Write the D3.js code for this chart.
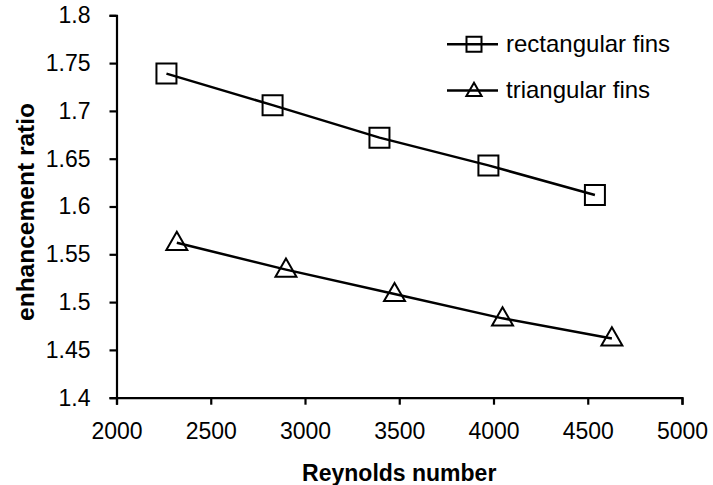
<!DOCTYPE html>
<html><head><meta charset="utf-8">
<script src="https://cdn.jsdelivr.net/npm/d3@7"></script>
<style>body{margin:0;background:#fff}svg{display:block}</style>
</head><body>
<script>
const xTicks = [2000, 2500, 3000, 3500, 4000, 4500, 5000];
const yTicks = [1.4, 1.45, 1.5, 1.55, 1.6, 1.65, 1.7, 1.75, 1.8];
const rectRe = [2265, 2828, 3395, 3973, 4538];
const rectRatio = [1.739, 1.706, 1.672, 1.643, 1.612];
const triRe = [2320, 2899, 3475, 4048, 4628];
const triRatio = [1.562, 1.534, 1.5085, 1.483, 1.462];
const seriesNames = ["rectangular fins", "triangular fins"];

const W = 713, H = 485;
const font = "'Liberation Sans', Arial, sans-serif";
const svg = d3.select("body").append("svg").attr("width", W).attr("height", H);
const x = d3.scaleLinear().domain([2000, 5000]).range([116.5, 682]);
const y = d3.scaleLinear().domain([1.4, 1.8]).range([397.7, 15.3]);

const xAxis = svg.append("g").attr("transform", `translate(0,${y(1.4)})`)
  .call(d3.axisBottom(x).tickValues(xTicks).tickFormat(d3.format("d")).tickSizeOuter(0).tickSize(7).tickPadding(18));
const yAxis = svg.append("g").attr("transform", `translate(${x(2000)},0)`)
  .call(d3.axisLeft(y).tickValues(yTicks).tickFormat(d => String(d)).tickSizeOuter(0).tickSize(7).tickPadding(19));
[xAxis, yAxis].forEach(g => {
  g.selectAll("path, line").attr("stroke", "#000").attr("stroke-width", 2.2);
  g.selectAll("text").attr("fill", "#000").style("font-family", font).style("font-size", "23px");
});

svg.append("text").attr("x", (x(2000) + x(5000)) / 2).attr("y", 481)
  .attr("text-anchor", "middle").style("font-family", font).style("font-size", "23px").style("font-weight", "bold")
  .text("Reynolds number");
svg.append("text").attr("transform", `translate(34,212) rotate(-90)`)
  .attr("text-anchor", "middle").style("font-family", font).style("font-size", "24px").style("font-weight", "bold")
  .attr("textLength", 218).attr("lengthAdjust", "spacingAndGlyphs")
  .text("enhancement ratio");

const line = d3.line().x(d => x(d[0])).y(d => y(d[1]));
const series = [
  {name: seriesNames[0], pts: rectRe.map((v, i) => [v, rectRatio[i]]), sym: d3.symbolSquare},
  {name: seriesNames[1], pts: triRe.map((v, i) => [v, triRatio[i]]), sym: d3.symbolTriangle}
];
series.forEach((s, si) => {
  svg.append("path").attr("d", line(s.pts)).attr("fill", "none").attr("stroke", "#000").attr("stroke-width", 2.5);
  svg.selectAll(null).data(s.pts).enter().append("path")
    .attr("d", d3.symbol().type(s.sym).size(si === 0 ? 400 : 190)())
    .attr("transform", d => `translate(${x(d[0])},${y(d[1]) + (si === 1 ? 1 : 0)})`)
    .attr("fill", "none").attr("stroke", "#000").attr("stroke-width", 2);
});

// legend
const legY = [44.3, 90.5];
series.forEach((s, i) => {
  const g = svg.append("g");
  g.append("line").attr("x1", 447).attr("x2", 498).attr("y1", legY[i]).attr("y2", legY[i])
    .attr("stroke", "#000").attr("stroke-width", 2.5);
  g.append("path").attr("d", d3.symbol().type(s.sym).size(i === 0 ? 225 : 100)())
    .attr("transform", `translate(474,${legY[i] + (i === 1 ? 1 : 0)})`)
    .attr("fill", "none").attr("stroke", "#000").attr("stroke-width", 2);
  g.append("text").attr("x", 506).attr("y", legY[i]).attr("dy", "0.33em")
    .style("font-family", font).style("font-size", "24px").text(s.name);
});
</script>
</body></html>
